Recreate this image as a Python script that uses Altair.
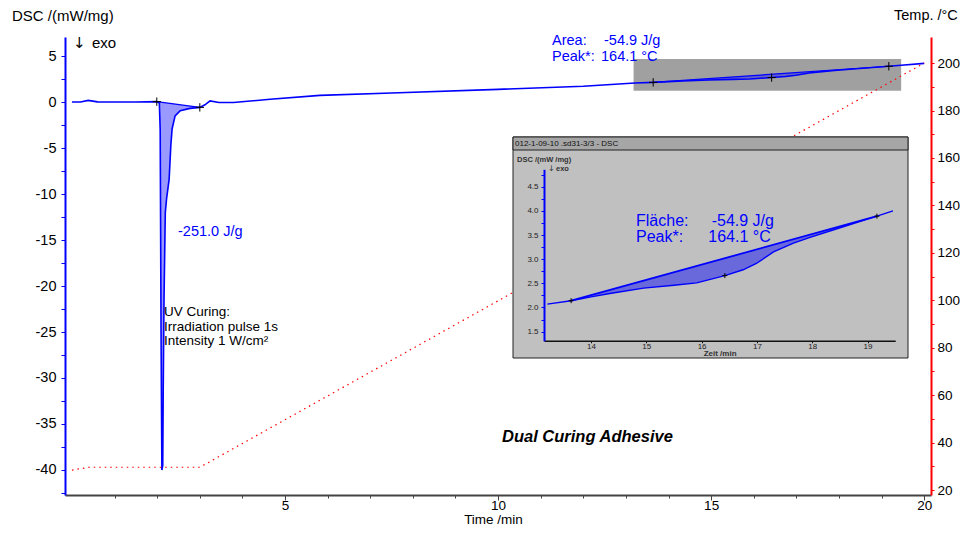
import altair as alt
import numpy as np
import pandas as pd

FONT = "Liberation Sans"
BLUE = "#0000ff"

# ---------------- data ----------------
# DSC signal: Time /min  vs  DSC /(mW/mg)
time_min = [0.0, 0.2, 0.38, 0.6, 1.0, 1.5, 1.99, 2.05, 2.07, 2.09, 2.11, 2.13, 2.14, 2.16,
            2.19, 2.22, 2.28, 2.32, 2.35, 2.42, 2.54, 2.77, 3.0, 3.12, 3.24, 3.45, 3.79,
            4.65, 5.82, 7.5, 10.0, 12.0, 13.21, 13.64, 14.0, 14.34, 14.95, 15.5, 15.91,
            16.42, 16.75, 16.99, 17.3, 17.66, 17.96, 18.56, 19.17, 19.46, 20.0]
dsc_signal = [0.0, 0.0, 0.18, 0.02, 0.0, 0.0, 0.04, -0.1, -3.0, -25.0, -40.0, -39.5, -32.0,
              -21.4, -12.0, -10.5, -8.4, -4.7, -2.9, -1.5, -0.95, -0.69, -0.58, -0.3, 0.12,
              -0.05, -0.05, 0.3, 0.72, 0.98, 1.38, 1.72, 2.07, 2.14, 2.22, 2.29, 2.40, 2.46,
              2.51, 2.66, 2.78, 2.91, 3.15, 3.33, 3.45, 3.67, 3.89, 4.0, 4.2]

# Temperature program (Temp. /°C)
temp_time = [0.0, 0.4, 3.0, 20.0]
temp_c = [28.4, 29.6, 29.6, 200.0]

# Evaluation limits (+ markers) and peak
uv_limit_t = [1.99, 3.0]
uv_limit_dsc = [0.04, -0.58]
cure_limit_t = [13.64, 19.17]
cure_limit_dsc = [2.14, 3.89]
peak_t = [16.42]
peak_dsc = [2.66]

# Zoomed region shown in the inset
zoom_t = [13.18, 19.46]
zoom_dsc = [1.23, 4.67]

# Axis ticks
x_ticks = list(range(1, 21))
dsc_ticks = [float(v) for v in np.arange(-42.5, 5.01, 2.5)]
temp_ticks = list(range(20, 201, 10))
inset_x_ticks = [14, 15, 16, 17, 18, 19]
inset_y_ticks = [float(v) for v in np.arange(1.5, 4.76, 0.25)]

# ---------------- tables ----------------
main_df = pd.DataFrame({"t": time_min, "dsc": dsc_signal})
main_df["i"] = range(len(main_df))

uv = main_df[(main_df.t >= uv_limit_t[0]) & (main_df.t <= uv_limit_t[1])].copy()
uv["base"] = np.interp(uv.t, uv_limit_t, uv_limit_dsc)
cure = main_df[(main_df.t >= cure_limit_t[0]) & (main_df.t <= cure_limit_t[1])].copy()
cure["base"] = np.interp(cure.t, cure_limit_t, cure_limit_dsc)
area_df = pd.concat([uv.assign(seg="uv"), cure.assign(seg="cure")])

base_df = pd.DataFrame({
    "t": uv_limit_t + cure_limit_t,
    "dsc": uv_limit_dsc + cure_limit_dsc,
    "seg": ["uv", "uv", "cure", "cure"],
})
marks_df = pd.DataFrame({"t": uv_limit_t + cure_limit_t + peak_t,
                         "dsc": uv_limit_dsc + cure_limit_dsc + peak_dsc})
zoom_df = pd.DataFrame({"t": [zoom_t[0]], "t2": [zoom_t[1]],
                        "dsc": [zoom_dsc[0]], "dsc2": [zoom_dsc[1]]})
temp_df = pd.DataFrame({"t": temp_time, "temp": temp_c})

inset_df = main_df[(main_df.t >= 13.15) & (main_df.t <= 19.5)]
inset_base = pd.DataFrame({"t": cure_limit_t, "dsc": cure_limit_dsc})
inset_marks = pd.DataFrame({"t": cure_limit_t + peak_t, "dsc": cure_limit_dsc + peak_dsc})

ONE = pd.DataFrame({"k": [0]})

# ---------------- scales / axes ----------------
X_DOM = [-0.164, 20.16]
Y_DOM = [-42.72, 7.07]
T_DOM = [17.9, 211.0]

x_axis = alt.Axis(
    orient="bottom", values=x_ticks,
    labelExpr="datum.value % 5 === 0 ? datum.label : ''",
    tickSize={"condition": {"test": "datum.value % 5 === 0", "value": 5}, "value": 3},
    domainColor="#444444", domainWidth=2, tickColor="#444444", tickWidth=1,
    labelFont=FONT, labelFontSize=13.5, labelColor="black", labelPadding=-2,
    title="Time /min", titleFont=FONT, titleFontSize=13.5, titleFontWeight="normal",
    titleColor="black", titleX=428, titleY=24, titleBaseline="middle", grid=False,
)
y_axis = alt.Axis(
    orient="left", values=dsc_ticks,
    labelExpr="round(datum.value * 2) % 10 === 0 ? toString(datum.value) : ''",
    tickSize=4, domainColor=BLUE, domainWidth=2, tickColor=BLUE,
    labelFont=FONT, labelFontSize=14.5, labelColor="black", labelPadding=5,
    title=None, grid=False,
)
t_axis = alt.Axis(
    orient="right", values=temp_ticks,
    labelExpr="datum.value % 20 === 0 ? datum.label : ''",
    tickSize=3, domainColor="red", domainWidth=2, tickColor="red",
    labelFont=FONT, labelFontSize=13.5, labelColor="black", labelPadding=3,
    title=None, grid=False,
)

def X(field="t"):
    return alt.X(f"{field}:Q", scale=alt.Scale(domain=X_DOM, nice=False, zero=False), axis=x_axis)

def Y(field="dsc"):
    return alt.Y(f"{field}:Q", scale=alt.Scale(domain=Y_DOM, nice=False, zero=False), axis=y_axis)

# inset scales: own domain, placed inside the plot with an explicit pixel range
IX_DOM, IX_RANGE = [13.15, 19.5], [479.0, 830.2]
IY_DOM, IY_RANGE = [1.31, 4.86], [303.8, 132.3]

ix_axis = alt.Axis(
    orient="bottom", offset=-154.2, values=inset_x_ticks, format="d", zindex=2,
    tickSize=2, domainColor="#111111", domainWidth=1.5, tickColor="#111111",
    labelFont=FONT, labelFontSize=8, labelColor="#222222", labelPadding=0,
    title="Zeit /min", titleFont=FONT, titleFontSize=8, titleFontWeight="bold",
    titleColor="#333333", titlePadding=-1, grid=False,
)
iy_axis = alt.Axis(
    orient="left", offset=-479, values=inset_y_ticks, zindex=2,
    labelExpr="round(datum.value * 4) % 2 === 0 ? format(datum.value, '.1f') : ''",
    tickSize=3, domainColor=BLUE, domainWidth=2, tickColor=BLUE,
    labelFont=FONT, labelFontSize=8, labelColor="#222222", labelPadding=3,
    title=None, grid=False,
)

def IX(field="t"):
    return alt.X(f"{field}:Q", scale=alt.Scale(domain=IX_DOM, range=IX_RANGE, nice=False, zero=False), axis=ix_axis)

def IY(field="dsc"):
    return alt.Y(f"{field}:Q", scale=alt.Scale(domain=IY_DOM, range=IY_RANGE, nice=False, zero=False), axis=iy_axis)

PLUS = "M-1,0L1,0M0,-1L0,1"

def note(text, x, y, size=14.5, color="black", font=FONT, **kw):
    return alt.Chart(ONE).mark_text(
        text=text, align="left", baseline="middle", font=font, fontSize=size, color=color, **kw
    ).encode(x=alt.value(x), y=alt.value(y))

# ---------------- main panel ----------------
zoom_box = alt.Chart(zoom_df).mark_rect(color="#a0a0a0").encode(
    x=X(), x2="t2", y=Y(), y2="dsc2")
areas = alt.Chart(area_df).mark_area(color=BLUE, opacity=0.4).encode(
    x=X(), y=Y(), y2="base", detail="seg:N")
bases = alt.Chart(base_df).mark_line(color=BLUE, strokeWidth=1.2).encode(
    x=X(), y=Y(), detail="seg:N")
curve = alt.Chart(main_df).mark_line(color=BLUE, strokeWidth=1.6).encode(
    x=X(), y=Y(), order="i:Q")
plus = alt.Chart(marks_df).mark_point(shape=PLUS, filled=False, stroke="black",
                                      strokeWidth=1, size=70, opacity=1).encode(x=X(), y=Y())

# text positions are pixels relative to the plot's top-left corner
main_texts = [
    note("DSC /(mW/mg)", -53, -21, size=15),
    note("↓", 8, 6, size=15, font="DejaVu Sans"),
    note("exo", 27, 6, size=15),
    note("Temp. /°C", 829, -21, size=14.5),
    note("Area:", 487, 4, color=BLUE),
    note("-54.9 J/g", 539, 4, color=BLUE),
    note("Peak*:", 487, 20, color=BLUE),
    note("164.1 °C", 536, 20, color=BLUE),
    note("-251.0 J/g", 113, 195, color=BLUE),
    note("UV Curing:", 99, 275, size=13.5),
    note("Irradiation pulse 1s", 99, 290, size=13.5),
    note("Intensity 1 W/cm²", 99, 304, size=13.5),
    note("Dual Curing Adhesive", 437, 400, size=16.5, fontWeight="bold", fontStyle="italic"),
]
main = alt.layer(zoom_box, areas, bases, curve, plus, *main_texts)

# ---------------- temperature ----------------
temp = alt.Chart(temp_df).mark_line(color="red", strokeWidth=1.2, strokeDash=[1.5, 4]).encode(
    x=alt.X("t:Q", scale=alt.Scale(domain=X_DOM, nice=False, zero=False), axis=None),
    y=alt.Y("temp:Q", scale=alt.Scale(domain=T_DOM, nice=False, zero=False), axis=t_axis),
)

# ---------------- inset ----------------
frame = alt.Chart(ONE).mark_rect(fill="#c0c0c0", stroke="#222222", strokeWidth=1).encode(
    x=alt.value(448), x2=alt.value(843), y=alt.value(100), y2=alt.value(321))
title_bar = alt.Chart(ONE).mark_rect(fill="#a6a6a6", stroke="#222222", strokeWidth=1).encode(
    x=alt.value(448), x2=alt.value(843), y=alt.value(100), y2=alt.value(113))
i_area = alt.Chart(cure).mark_area(color=BLUE, opacity=0.45).encode(x=IX(), y=IY(), y2="base")
i_base = alt.Chart(inset_base).mark_line(color=BLUE, strokeWidth=1.8).encode(x=IX(), y=IY())
i_curve = alt.Chart(inset_df).mark_line(color=BLUE, strokeWidth=1.4).encode(x=IX(), y=IY(), order="i:Q")
i_plus = alt.Chart(inset_marks).mark_point(shape=PLUS, filled=False, stroke="black",
                                           strokeWidth=1, size=25, opacity=1).encode(x=IX(), y=IY())
inset_texts = [
    note("012-1-09-10 .sd31-3/3 - DSC", 450, 106.5, size=8, color="#111111"),
    note("DSC /(mW /mg)", 452, 123, size=7.5, color="#333333", fontWeight="bold"),
    note("↓", 483, 132, size=8, color="#333333", font="DejaVu Sans"),
    note("exo", 491, 132, size=7.5, color="#333333", fontWeight="bold"),
    note("Fläche:", 571, 183.5, size=16, color=BLUE),
    note("-54.9 J/g", 646.7, 183.5, size=16, color=BLUE),
    note("Peak*:", 571, 199.5, size=16, color=BLUE),
    note("164.1 °C", 643.3, 199.5, size=16, color=BLUE),
]
inset = alt.layer(frame, title_bar, i_area, i_base, i_curve, i_plus, *inset_texts)

chart = alt.layer(main, temp, inset).resolve_scale(
    x="independent", y="independent"
).properties(
    width=866, height=458,
    autosize=alt.AutoSizeParams(type="none"),
    padding={"left": 57, "top": 29, "right": 29, "bottom": 31},
    background="white",
).configure_view(stroke=None).configure_axis(grid=False)

chart.save("out.html", embed_options={"renderer": "svg", "actions": False})
